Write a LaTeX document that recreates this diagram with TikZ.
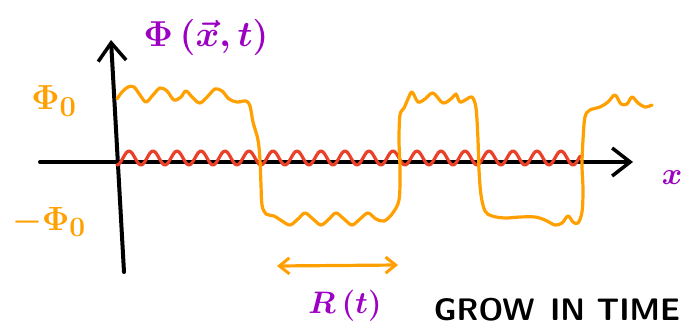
\documentclass[tikz,border=0pt]{standalone}
\usetikzlibrary{arrows.meta}
\definecolor{phiorange}{RGB}{255,160,0}
\definecolor{phired}{RGB}{235,64,40}
\definecolor{phipurple}{RGB}{155,0,195}
\tikzset{
  axisline/.style = {line width = 4pt, line cap = round, black},
  fieldline/.style = {line width = 3.2pt, line cap = round, line join = round},
  barb/.style = {-{Straight Barb[length = 18pt, width = 28pt, line width = 3.5pt]}},
  lbl/.style = {inner sep = 0pt, font = \Huge\boldmath}
}
\begin{document}
\begin{tikzpicture}[x = 1pt, y = -1pt]
\useasboundingbox (0,0) rectangle (683,329);
% axes
\coordinate (ybot) at (124,272);
\coordinate (ytop) at (111,40);
\coordinate (xleft) at (40,162);
\coordinate (xright) at (633,162);
\draw [axisline, barb] (ybot) -- (ytop);
\draw [axisline, barb] (xleft) -- (xright);

% small fluctuation around zero
\draw [fieldline, phired] plot [domain = 117:580, samples = 240, smooth]
  (\x, {165 - 14*(0.5 - 0.5*cos(15*(\x - 117)))});

% domain walls
\draw [fieldline, phiorange] plot [smooth, tension = 0.55] coordinates {
  (117,99) (122,92) (128,87) (134,87) (140,95) (146,102) (153,95) (160,88)
  (167,91) (174,100) (181,97) (186,91) (193,98) (200,103) (208,96) (215,89)
  (222,91) (229,99) (237,102) (246,101) (250,106) (253,122) (258,140)
  (260,160) (261,185) (262,205) (266,214) (274,216)
  (282,221) (290,225) (298,219) (305,213) (313,219) (321,225) (329,219)
  (336,213) (344,219) (352,225) (360,219) (368,213) (376,219) (384,221)
  (392,214) (399,200) (400,170) (399,140) (400,115) (404,108) (408,99)
  (412,92) (418,102) (425,99) (433,93) (443,103) (452,98) (456,94)
  (460,102) (467,99) (472,97) (476,108) (478,140) (479,170) (481,195)
  (485,211) (492,216) (505,218) (520,217) (535,217) (545,220) (555,225)
  (562,223) (568,216) (573,222) (578,223) (582,212) (583,190) (582,165)
  (583,140) (585,117) (590,110) (600,107) (608,102) (615,95) (621,104)
  (627,104) (632,97) (638,103) (645,107) (652,105)};

% growing size
\coordinate (rleft) at (277,266);
\coordinate (rright) at (398,265);
\draw [line width = 3.2pt, phiorange,
  {Straight Barb[length = 10pt, width = 16pt, line width = 3pt]}-{Straight Barb[length = 10pt, width = 16pt, line width = 3pt]}]
  (rleft) -- (rright);

% labels
\node [lbl, phipurple, scale = 1.45] (phi) at (206,37) {$\Phi\,(\vec{x},t)$};
\node [lbl, phiorange, scale = 1.4] (phizero) at (54,101) {$\Phi_0$};
\node [lbl, phiorange, scale = 1.35] (phiminus) at (49,222) {$-\Phi_0$};
\node [lbl, phipurple, scale = 1.25] (xlab) at (672,178) {$x$};
\node [lbl, phipurple, scale = 1.25] (radius) at (345,306) {$R\,(t)$};
\node [lbl, black, scale = 1.25, font = \Huge\sffamily\bfseries] (grow) at (557,310) {GROW\enspace IN TIME};
\end{tikzpicture}
\end{document}
